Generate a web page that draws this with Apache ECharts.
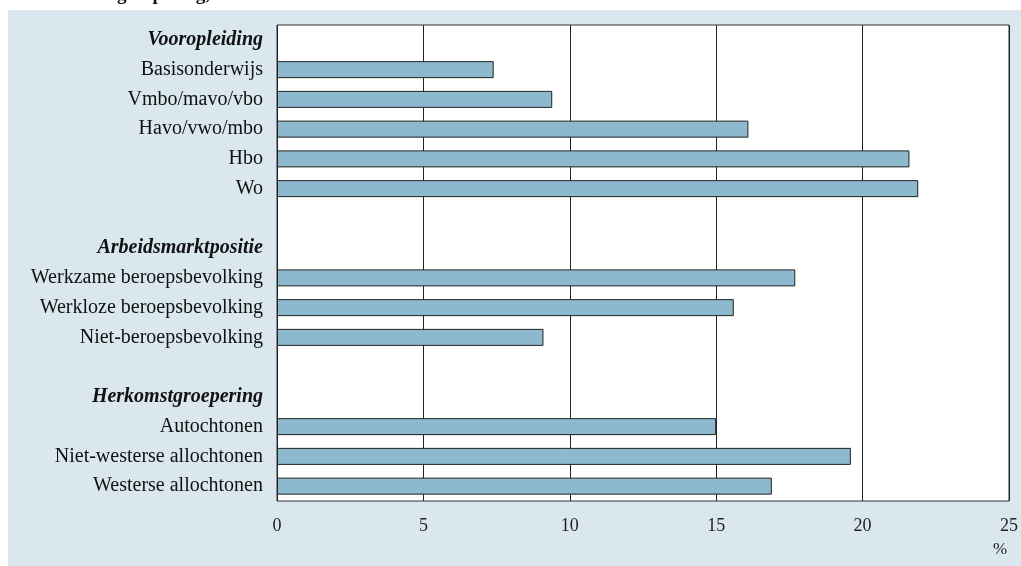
<!DOCTYPE html>
<html>
<head>
<meta charset="utf-8">
<script src="https://cdn.jsdelivr.net/npm/echarts@6/dist/echarts.min.js"></script>
<style>
html,body{margin:0;padding:0;background:#fff;}
#chart{width:1021px;height:566px;}
</style>
</head>
<body>
<div id="chart"></div>
<script>
// rijen van boven naar beneden (kopjes en lege regels zonder waarde)
var categories = [
  'Vooropleiding', 'Basisonderwijs', 'Vmbo/mavo/vbo', 'Havo/vwo/mbo', 'Hbo', 'Wo', ' ',
  'Arbeidsmarktpositie', 'Werkzame beroepsbevolking', 'Werkloze beroepsbevolking', 'Niet-beroepsbevolking', '  ',
  'Herkomstgroepering', 'Autochtonen', 'Niet-westerse allochtonen', 'Westerse allochtonen'
];
var headers = ['Vooropleiding', 'Arbeidsmarktpositie', 'Herkomstgroepering'];
var values = [
  null, 7.4, 9.4, 16.1, 21.6, 21.9, null,
  null, 17.7, 15.6, 9.1, null,
  null, 15.0, 19.6, 16.9
];
var xTicks = [0, 5, 10, 15, 20, 25];

var myChart = echarts.init(document.getElementById('chart'));
var serif = '"Liberation Serif", serif';

var option = {
  animation: false,
  backgroundColor: '#ffffff',
  graphic: [
    { type: 'rect', left: 8, top: 10, shape: { width: 1013, height: 556 }, style: { fill: '#dae7ee' }, z: -10 },
    { type: 'text', left: 40, top: -14, style: { text: 'herkomstgroepering, 2006', font: 'bold 19px ' + serif, fill: '#111' } },
    { type: 'text', left: 993, top: 541, style: { text: '%', font: '17px ' + serif, fill: '#222' } }
  ],
  grid: {
    left: 277, right: 10, top: 25, bottom: 65,
    show: true, backgroundColor: '#ffffff', borderColor: '#333', borderWidth: 1
  },
  xAxis: {
    type: 'value',
    min: xTicks[0],
    max: xTicks[xTicks.length - 1],
    interval: 5,
    axisLine: { show: false },
    axisTick: { show: false },
    splitLine: { show: true, lineStyle: { color: '#222', width: 1 } },
    axisLabel: { color: '#222', fontFamily: serif, fontSize: 18, margin: 16 }
  },
  yAxis: {
    type: 'category',
    inverse: true,
    data: categories,
    axisLine: { show: false },
    axisTick: { show: false },
    axisLabel: {
      color: '#111', fontFamily: serif, fontSize: 20, margin: 14,
      formatter: function(v){
        if (headers.indexOf(v) >= 0) return '{h|' + v + '}';
        return v;
      },
      rich: {
        h: { fontFamily: serif, fontSize: 20, fontStyle: 'italic', fontWeight: 'bold', color: '#111' }
      }
    }
  },
  series: [{
    type: 'bar',
    data: values,
    barWidth: 17,
    itemStyle: { color: '#8cb9cd', borderColor: '#222', borderWidth: 1 }
  }]
};
myChart.setOption(option);
</script>
</body>
</html>
